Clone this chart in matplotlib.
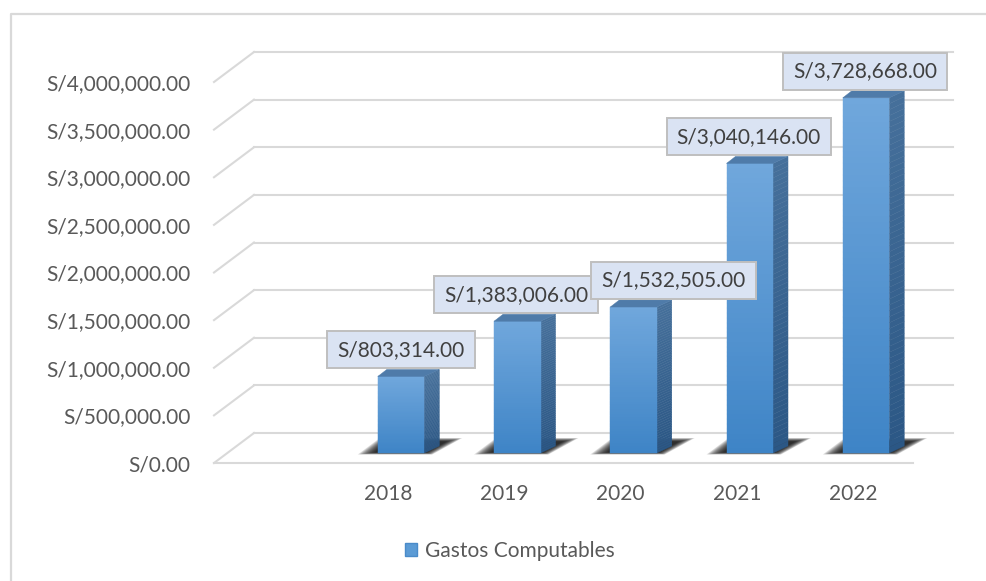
import numpy as np
import matplotlib
matplotlib.use('Agg')
import matplotlib.pyplot as plt
from matplotlib.patches import Polygon, Patch, Rectangle
from matplotlib.colors import to_rgb

# ---------------- data ----------------
years = ['2018', '2019', '2020', '2021', '2022']
gastos = [803314, 1383006, 1532505, 3040146, 3728668]
yticks = [0, 500000, 1000000, 1500000, 2000000, 2500000, 3000000, 3500000, 4000000]
series_name = 'Gastos Computables'

plt.rcParams['font.family'] = ['Lato', 'DejaVu Sans']
FS = 15

W, H = 986, 581
fig = plt.figure(figsize=(W / 100, H / 100), dpi=100)
fig.patch.set_facecolor('white')

# main (front plane) axes: holds the scales and tick labels
XMIN, XMAX = -1.497, 4.516
ax = fig.add_axes([214 / W, (H - 463) / H, (913 - 214) / W, 381 / H])
ax.set_xlim(XMIN, XMAX)
ax.set_ylim(0, 4000000)
for s in ax.spines.values():
    s.set_visible(False)
ax.set_facecolor('none')
ax.set_xticks(range(len(years)), years)
ax.set_yticks(yticks, [f'S/{t:,.2f}' for t in yticks])
ax.tick_params(length=0, labelsize=FS, labelcolor='#595959')
ax.tick_params(axis='y', pad=17)
ax.tick_params(axis='x', pad=15)

# overlay axes in pixel units for the pseudo-3D drawing
pax = fig.add_axes([0, 0, 1, 1], zorder=2)
pax.set_xlim(0, W)
pax.set_ylim(H, 0)
pax.axis('off')
pax.set_autoscale_on(False)
pax.patch.set_alpha(0)


def P(x, v):
    d = ax.transData.transform((x, v))
    return pax.transData.inverted().transform(d)


GRID = '#D9D9D9'
DEPTH = np.array([40, -30])      # front plane -> back wall
BAR_OFF = np.array([13, -10])    # front plane -> bar front face

# outer chart border
pax.plot([11, 11, W], [H, 14, 14], color=GRID, lw=1.6, solid_capstyle='butt')

# gridlines: left wall slants + back wall horizontals
for t in yticks:
    fl = P(XMIN, t)
    fr = P(XMAX, t)
    bl = fl + DEPTH
    br = fr + DEPTH
    pax.plot([fl[0], bl[0]], [fl[1], bl[1]], color=GRID, lw=1.5, zorder=1)
    pax.plot([bl[0], br[0]], [bl[1], br[1]], color=GRID, lw=1.5, zorder=1)
    if t == 0:
        pax.plot([fl[0], fr[0]], [fl[1], fr[1]], color=GRID, lw=1.5, zorder=1)


def grad_quad(b0, b1, t0, t1, c_bot, c_top, n=60, z=3):
    """fill quad with bottom edge b0-b1 and top edge t0-t1, vertical gradient"""
    cb, ct = np.array(to_rgb(c_bot)), np.array(to_rgb(c_top))
    b0, b1, t0, t1 = map(np.asarray, (b0, b1, t0, t1))
    for k in range(n):
        f0, f1 = k / n, (k + 1) / n
        p0 = b0 + (t0 - b0) * f0
        p1 = b1 + (t1 - b1) * f0
        q0 = b0 + (t0 - b0) * f1
        q1 = b1 + (t1 - b1) * f1
        col = cb + (ct - cb) * (f0 + f1) / 2
        pax.add_patch(Polygon([p0, p1, q1, q0], closed=True, facecolor=col,
                              edgecolor=col, lw=0.3, zorder=z))


BW = 0.40
SIDE_DX, SIDE_DY = 15, -7
TOP_DXL = 9
LABEL_DX = [0, -1, 40, -1, -1]   # manual label nudges (pixels)

texts = []
for i, v in enumerate(gastos):
    x0, yb = P(i - BW / 2, 0) + BAR_OFF
    x1, _ = P(i + BW / 2, 0) + BAR_OFF
    _, yt = P(i, v) + BAR_OFF

    # soft shadow on the floor
    for k in range(12):
        s = k * 1.3
        shadow = [(x0 - 20 + s * 1.2, yb + 1.5 - s * 0.15),
                  (x1 + 8 - s * 0.4, yb + 1.5 - s * 0.15),
                  (x1 + 38 - s * 1.1, yb - 15 + s * 0.25),
                  (x0 + 2 + s * 0.5, yb - 15 + s * 0.25)]
        pax.add_patch(Polygon(shadow, closed=True, facecolor='black',
                              edgecolor='none', alpha=0.13, zorder=2))

    # side face
    grad_quad((x1, yb), (x1 + SIDE_DX, yb + SIDE_DY),
              (x1, yt), (x1 + SIDE_DX, yt + SIDE_DY),
              '#2B5785', '#46709B')
    # front face
    grad_quad((x0, yb), (x1, yb), (x0, yt), (x1, yt), '#3E84C6', '#70A7DC')
    # top face
    pax.add_patch(Polygon([(x0, yt), (x1, yt), (x1 + SIDE_DX, yt + SIDE_DY),
                           (x0 + TOP_DXL, yt + SIDE_DY)], closed=True,
                          facecolor='#4F7BA9', edgecolor='#4F7BA9', lw=0.3,
                          zorder=4))

    # data label text (box added after measuring)
    cx = (x0 + x1) / 2 + LABEL_DX[i]
    cy = yt + SIDE_DY - 1 - 18.5
    t = pax.text(cx, cy, f'S/{v:,.2f}', ha='center', va='center',
                 fontsize=FS, color='#404040', zorder=6 + 2 * i)
    texts.append((t, cx, cy, i))

fig.canvas.draw()
for t, cx, cy, i in texts:
    bb = t.get_window_extent()
    bw = bb.width + 20
    bh = 37
    pax.add_patch(Rectangle((cx - bw / 2, cy - bh / 2), bw, bh,
                            facecolor='#DAE3F3', edgecolor='#BFBFBF', lw=1.4,
                            zorder=5 + 2 * i))

# legend
leg = fig.legend(handles=[Patch(facecolor='#5B9BD5', edgecolor='#4A8BC9')],
                 labels=[series_name], loc='center',
                 bbox_to_anchor=(510 / W, 1 - 551 / H), frameon=False,
                 fontsize=FS, handlelength=0.55, handleheight=0.55,
                 handletextpad=0.4)
for t in leg.get_texts():
    t.set_color('#595959')

fig.savefig('out.png', dpi=100)
